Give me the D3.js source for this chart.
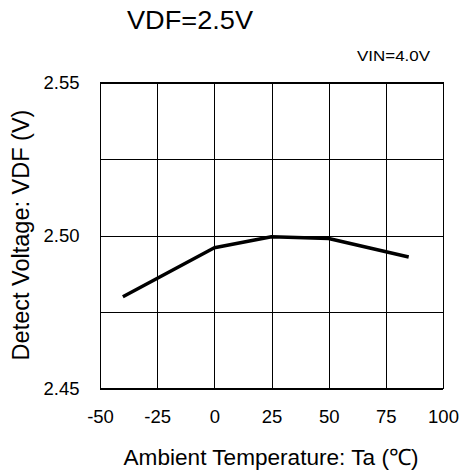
<!DOCTYPE html>
<html>
<head>
<meta charset="utf-8">
<script src="https://cdn.jsdelivr.net/npm/d3@7"></script>
<style>
  html, body { margin: 0; padding: 0; background: #fff; }
  svg { display: block; font-family: "Liberation Sans", Arial, sans-serif; }
</style>
</head>
<body>
<svg id="chart" width="461" height="475"></svg>
<script>
const temps = [-40, 0, 25, 50, 85];
const vdfValues = [2.480, 2.496, 2.4996, 2.499, 2.493];
const xTicks = [-50, -25, 0, 25, 50, 75, 100];
const xTickLabels = ["-50", "-25", "0", "25", "50", "75", "100"];
const yTicks = [2.45, 2.475, 2.50, 2.525, 2.55];
const yTickLabels = ["2.45", "", "2.50", "", "2.55"];
const titleText = "VDF=2.5V";
const conditionText = "VIN=4.0V";
const xTitle = "Ambient Temperature: Ta (℃)";
const yTitle = "Detect Voltage: VDF (V)";

const svg = d3.select("#chart");
const mLeft = 100, mRight = 443, mTop = 82.5, mBottom = 388.5;
const w = mRight - mLeft, h = mBottom - mTop;

const x = d3.scaleLinear().domain([-50, 100]).range([0, w]);
const y = d3.scaleLinear().domain([2.45, 2.55]).range([h, 0]);

const g = svg.append("g").attr("transform", `translate(${mLeft},${mTop})`);

const xAxis = d3.axisBottom(x).tickValues(xTicks).tickSizeInner(-h).tickSizeOuter(0)
  .tickPadding(21.5).tickFormat((d, i) => xTickLabels[i]);
const yAxis = d3.axisLeft(y).tickValues(yTicks).tickSizeInner(-w).tickSizeOuter(0)
  .tickPadding(20.5).tickFormat((d, i) => yTickLabels[i]);

const gx = g.append("g").attr("transform", `translate(0,${h})`).call(xAxis);
const gy = g.append("g").call(yAxis);
[gx, gy].forEach(a => {
  a.select(".domain").remove();
  a.selectAll(".tick line").attr("stroke", "#000").attr("stroke-width", 1).attr("shape-rendering", "crispEdges");
  a.selectAll(".tick text").attr("fill", "#000").attr("font-size", 18.5)
    .attr("font-family", "'Liberation Sans', Arial, sans-serif");
});

g.append("rect").attr("x", 0).attr("y", 0).attr("width", w).attr("height", h)
  .attr("fill", "none").attr("stroke", "#000").attr("stroke-width", 1).attr("shape-rendering", "crispEdges");

const line = d3.line().x((d, i) => x(temps[i])).y(d => y(d));
g.append("path").datum(vdfValues).attr("d", line)
  .attr("fill", "none").attr("stroke", "#000").attr("stroke-width", 3.5)
  .attr("stroke-linejoin", "round").attr("stroke-linecap", "butt");

svg.append("text").attr("x", 127).attr("y", 29).attr("font-size", 26)
  .attr("textLength", 126).attr("lengthAdjust", "spacingAndGlyphs").text(titleText);
svg.append("text").attr("x", 357).attr("y", 61).attr("font-size", 15)
  .attr("textLength", 73).attr("lengthAdjust", "spacingAndGlyphs").text(conditionText);

svg.append("text").attr("x", 271).attr("y", 465).attr("text-anchor", "middle")
  .attr("font-size", 22.6).text(xTitle);
svg.append("text").attr("transform", "translate(28.5,235) rotate(-90)")
  .attr("text-anchor", "middle").attr("font-size", 23.5).text(yTitle);
</script>
</body>
</html>
